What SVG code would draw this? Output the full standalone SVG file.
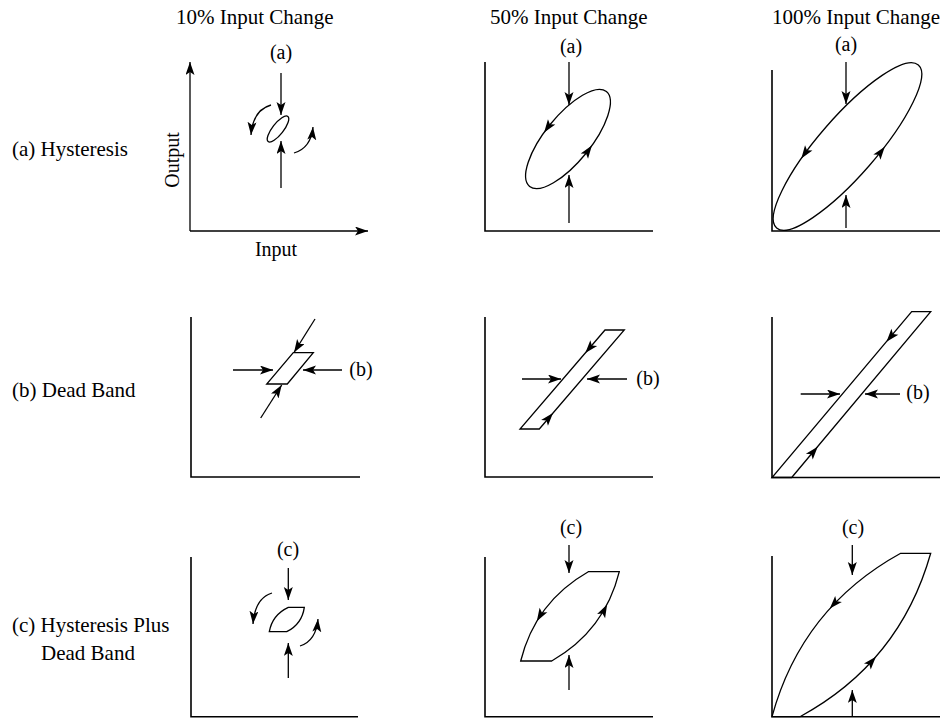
<svg xmlns="http://www.w3.org/2000/svg" xmlns:xlink="http://www.w3.org/1999/xlink" width="941" height="718" viewBox="0 0 941 718">
<style>
text{font-family:"Liberation Serif","Times New Roman",serif;fill:#000}
.h{font-size:21px}
.l{font-size:20px}
.ax{fill:none;stroke:#000;stroke-width:1.6}
.sh{fill:none;stroke:#000;stroke-width:1.3}
.ar{fill:none;stroke:#000;stroke-width:1.3;marker-end:url(#arr)}
.ah{fill:#000}
</style>
<defs>
<marker id="arr" markerUnits="userSpaceOnUse" markerWidth="14" markerHeight="10" refX="13" refY="4.5" orient="auto" viewBox="0 0 14 10">
<path d="M0,0 L13,4.5 L0,9 L3,4.5 Z" fill="#000"/>
</marker>
<path id="ah" d="M0,0 L-13,-4.5 L-10,0 L-13,4.5 Z"/>
</defs>

<g id="headings">
<text class="h" x="176" y="24">10% Input Change</text>
<text class="h" x="490" y="24">50% Input Change</text>
<text class="h" x="772" y="24">100% Input Change</text>
</g>
<g id="row-labels">
<text class="h" x="12" y="156">(a) Hysteresis</text>
<text class="h" x="12" y="397">(b) Dead Band</text>
<text class="h" x="12" y="632">(c) Hysteresis Plus</text>
<text class="h" x="41" y="660">Dead Band</text>
</g>

<g id="panel-a-10">
<path class="ar" d="M190,231 V62"/>
<path class="ar" d="M190,231 H368"/>
<text class="l" x="179" y="160" text-anchor="middle" transform="rotate(-90 179 160)">Output</text>
<text class="l" x="276" y="256" text-anchor="middle">Input</text>
<ellipse class="sh" cx="278" cy="129" rx="16" ry="5.5" transform="rotate(-52 278 129)"/>
<text class="l" x="281" y="59" text-anchor="middle">(a)</text>
<g class="connectors">
<path class="ar" d="M281,73 V115"/>
<path class="ar" d="M281,188 V141"/>
<path class="ar" d="M271,105 Q253,110 251,135"/>
<path class="ar" d="M294,153 Q311,148 313,127"/>
</g>
</g>

<g id="panel-a-50">
<path class="ax" d="M485,62 V231 H653"/>
<ellipse class="sh" cx="568" cy="139" rx="61" ry="23" transform="rotate(-51 568 139)"/>
<use xlink:href="#ah" class="ah" transform="translate(544.1,132.5) rotate(125.4)"/>
<use xlink:href="#ah" class="ah" transform="translate(591.9,145.5) rotate(-54.6)"/>
<text class="l" x="571" y="53" text-anchor="middle">(a)</text>
<g class="connectors">
<path class="ar" d="M569,62 V105"/>
<path class="ar" d="M569,223 V175"/>
</g>
</g>

<g id="panel-a-100">
<path class="ax" d="M772,70 V231 H940"/>
<ellipse class="sh" cx="847.5" cy="146.5" rx="108" ry="29" transform="rotate(-49 847.5 146.5)"/>
<use xlink:href="#ah" class="ah" transform="translate(801.3,158.5) rotate(124.9)"/>
<use xlink:href="#ah" class="ah" transform="translate(884.8,146.8) rotate(-52.6)"/>
<text class="l" x="846" y="51" text-anchor="middle">(a)</text>
<g class="connectors">
<path class="ar" d="M846,62 V104"/>
<path class="ar" d="M846,228 V195"/>
</g>
</g>

<g id="panel-b-10">
<path class="ax" d="M191,317 V477 H360"/>
<path class="sh" d="M293.3,352.7 H313.3 L287.3,384 H266.7 Z"/>
<text class="l" x="361" y="376" text-anchor="middle">(b)</text>
<g class="connectors">
<path class="ar" d="M315,319 L294,352.5"/>
<path class="ar" d="M260.7,418 L281.7,385"/>
<path class="ar" d="M233,370 H273"/>
<path class="ar" d="M342,370 H303"/>
</g>
</g>

<g id="panel-b-50">
<path class="ax" d="M485,317 V477 H653"/>
<path class="sh" d="M605,330 H624.3 L539.3,429 H520 Z"/>
<use xlink:href="#ah" class="ah" transform="translate(585.3,353) rotate(130.6)"/>
<use xlink:href="#ah" class="ah" transform="translate(553,413) rotate(-49.4)"/>
<text class="l" x="648" y="385" text-anchor="middle">(b)</text>
<g class="connectors">
<path class="ar" d="M522,379 H561"/>
<path class="ar" d="M627,379 H587"/>
</g>
</g>

<g id="panel-b-100">
<path class="ax" d="M772,317 V477.5 H940"/>
<path class="sh" d="M911.7,311.7 H930.7 L791.7,477.5 H772 Z"/>
<use xlink:href="#ah" class="ah" transform="translate(886.5,341.7) rotate(130.1)"/>
<use xlink:href="#ah" class="ah" transform="translate(817.7,446.7) rotate(-49.9)"/>
<text class="l" x="918" y="399" text-anchor="middle">(b)</text>
<g class="connectors">
<path class="ar" d="M800.7,394 H840"/>
<path class="ar" d="M900,394 H865"/>
</g>
</g>

<g id="panel-c-10">
<path class="ax" d="M191,557 V716.7 H358"/>
<path class="sh" d="M288.3,607.3 H304.3 Q302,624 286.7,631.7 H269.3 Q272.3,614.8 288.3,607.3 Z"/>
<text class="l" x="288" y="556" text-anchor="middle">(c)</text>
<g class="connectors">
<path class="ar" d="M288.3,568 V600"/>
<path class="ar" d="M288.3,678 V643"/>
<path class="ar" d="M272,593 Q255,598 253,624"/>
<path class="ar" d="M300,646 Q316,641 318,619"/>
</g>
</g>

<g id="panel-c-50">
<path class="ax" d="M485,557 V716.7 H653"/>
<path class="sh" d="M588.3,571.7 H619.3 Q604.6,630.9 551.7,661 H520.7 Q535.4,601.9 588.3,571.7 Z"/>
<use xlink:href="#ah" class="ah" transform="translate(536.8,621.2) rotate(120.8)"/>
<use xlink:href="#ah" class="ah" transform="translate(607.1,604.6) rotate(-62.6)"/>
<text class="l" x="571" y="534" text-anchor="middle">(c)</text>
<g class="connectors">
<path class="ar" d="M569,545 V573"/>
<path class="ar" d="M569,690 V655"/>
</g>
</g>

<g id="panel-c-100">
<path class="ax" d="M772,556 V716.7 H940"/>
<path class="sh" d="M900.7,553.3 H930.7 Q899.8,662.5 800,716.7 H772 Q801.8,607.8 900.7,553.3 Z"/>
<use xlink:href="#ah" class="ah" transform="translate(829.8,608.6) rotate(132.1)"/>
<use xlink:href="#ah" class="ah" transform="translate(875.9,656.7) rotate(-48.9)"/>
<text class="l" x="853" y="534" text-anchor="middle">(c)</text>
<g class="connectors">
<path class="ar" d="M852.3,545 V575"/>
<path class="ar" d="M852.3,716 V690"/>
</g>
</g>
</svg>
